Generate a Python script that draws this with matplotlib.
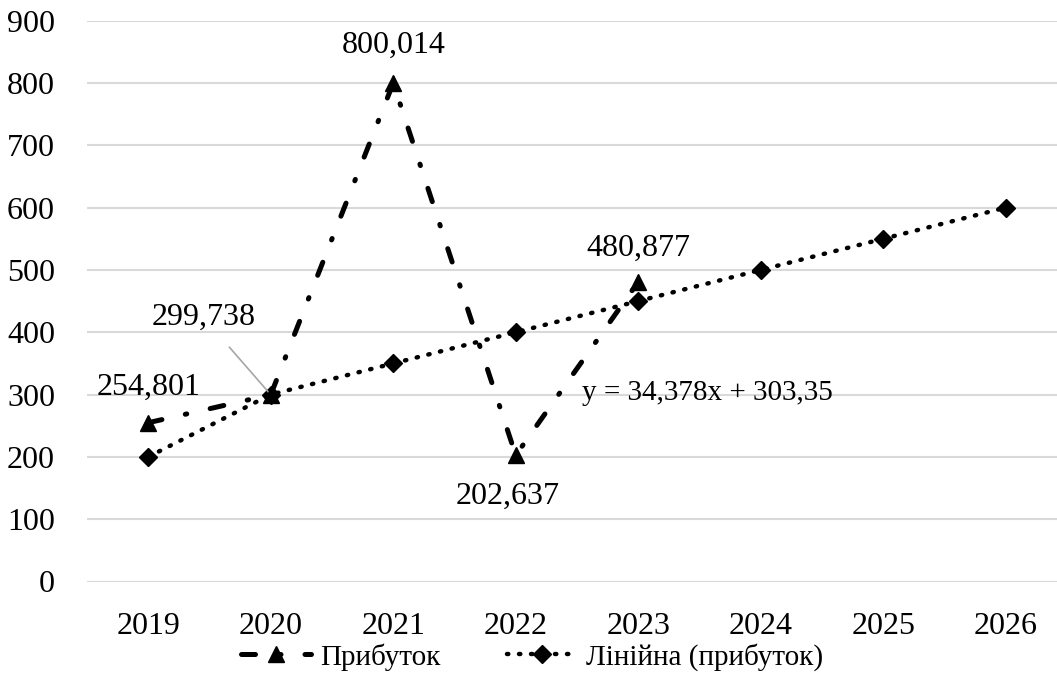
import matplotlib.pyplot as plt
from matplotlib.lines import Line2D

# data
years = ['2019', '2020', '2021', '2022', '2023', '2024', '2025', '2026']
profit = [254.801, 299.738, 800.014, 202.637, 480.877]
trend = [200, 300, 350, 400, 450, 500, 550, 600]
profit_labels = ['254,801', '299,738', '800,014', '202,637', '480,877']
equation = 'y = 34,378x + 303,35'

plt.rcParams['font.family'] = ['Liberation Serif', 'DejaVu Serif']
FS = 23

fig = plt.figure(figsize=(10.57, 6.97), dpi=100)
ax = fig.add_axes([87 / 1057, 1 - 581.5 / 697, 980 / 1057, 560.8 / 697])

x_profit = list(range(len(profit)))
x_trend = list(range(len(trend)))

dashdot = (0, (2.8, 4.8, 0.3, 4.8))
dotted = (0, (0.3, 2.4))

ax.plot(x_trend, trend, color='black', lw=3.2, linestyle=dotted,
        dash_capstyle='round', marker='D', ms=9.5, zorder=3)
ax.plot(x_profit, profit, color='black', lw=3.6, linestyle=dashdot,
        dash_capstyle='round', marker='^', ms=12, zorder=4)

ax.set_xlim(-0.5, 7.5)
ax.set_ylim(0, 900)
ax.set_yticks(range(0, 901, 100))
ax.set_xticks(x_trend)
ax.set_xticklabels(years)
ax.grid(axis='y', color='#d9d9d9', lw=1.5)
ax.set_axisbelow(True)
for s in ax.spines.values():
    s.set_visible(False)
ax.tick_params(length=0, labelsize=FS, colors='black')
ax.tick_params(axis='y', pad=23)
ax.tick_params(axis='x', pad=22)

# data labels
ax.text(0, 312, profit_labels[0], ha='center', va='center', fontsize=FS)
ax.annotate(profit_labels[1], xy=(1, profit[1]), xytext=(0.45, 424),
            ha='center', va='center', fontsize=FS,
            arrowprops=dict(arrowstyle='-', color='#a6a6a6', lw=1.2,
                            shrinkA=12, shrinkB=2))
ax.text(2, 860, profit_labels[2], ha='center', va='center', fontsize=FS)
ax.annotate(profit_labels[3], xy=(3, profit[3]), xytext=(2.93, 136),
            ha='center', va='center', fontsize=FS,
            arrowprops=dict(arrowstyle='-', color='#a6a6a6', lw=1.2,
                            shrinkA=12, shrinkB=6))
ax.text(4, 535, profit_labels[4], ha='center', va='center', fontsize=FS)
ax.text(3.54, 303, equation, ha='left', va='center', fontsize=FS - 2)

handles = [
    Line2D([], [], color='black', lw=3.6, linestyle=dashdot,
           dash_capstyle='round', marker='^', ms=12),
    Line2D([], [], color='black', lw=3.2, linestyle=dotted,
           dash_capstyle='round', marker='D', ms=9.5),
]
fig.legend(handles, ['Прибуток', 'Лінійна (прибуток)'], loc='center',
           bbox_to_anchor=(532 / 1057, 1 - 657 / 697), ncol=2, frameon=False,
           fontsize=21, handlelength=2.4, handletextpad=0.3, columnspacing=2.3)

fig.savefig('out.png', dpi=100)
